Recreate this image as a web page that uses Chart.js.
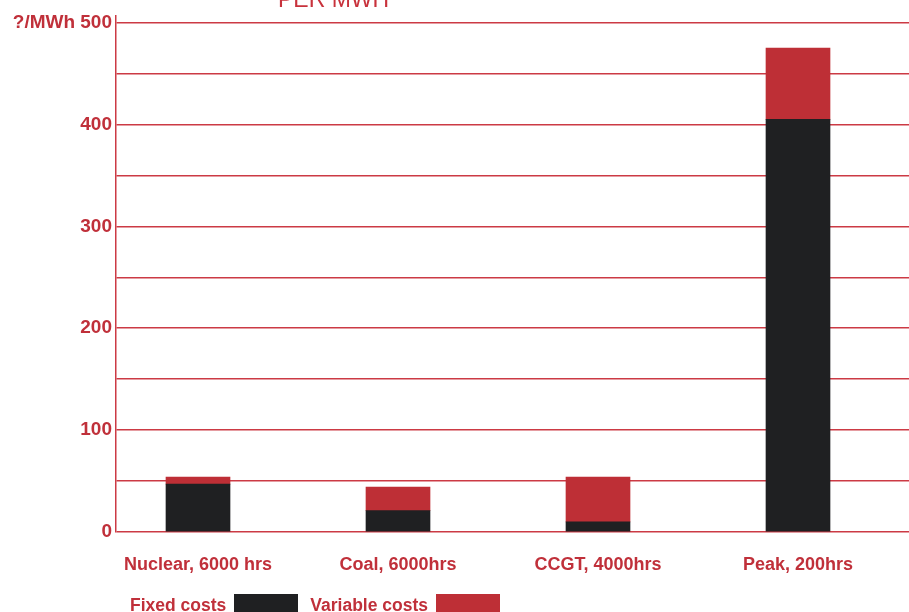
<!DOCTYPE html>
<html>
<head>
<meta charset="utf-8">
<script src="https://cdn.jsdelivr.net/npm/chart.js@4.4.1/dist/chart.umd.min.js"></script>
<style>
  html, body { margin: 0; padding: 0; background: #fff; }
  #wrap { position: relative; width: 909px; height: 612px; overflow: hidden; font-family: "Liberation Sans", Arial, sans-serif; }
  #title { position: absolute; left: 278px; top: -12px; font-size: 23px; line-height: 23px; color: #c8323c; white-space: nowrap; }
  #legend { position: absolute; left: 130px; top: 594px; display: flex; align-items: flex-start; }
  .lg-item { display: flex; align-items: flex-start; margin-right: 12px; }
  .lg-text { font-weight: bold; font-size: 17.5px; color: #c0303a; line-height: 20px; margin-top: 1px; margin-right: 8px; }
  .lg-box { width: 64px; height: 24px; }
</style>
</head>
<body>
<div id="wrap">
  <canvas id="chart" width="909" height="612"></canvas>
  <div id="title">PER MWH</div>
  <div id="legend"></div>
</div>
<script>
// ── data ────────────────────────────────────────────────────────────────
const categories = ["Nuclear, 6000 hrs", "Coal, 6000hrs", "CCGT, 4000hrs", "Peak, 200hrs"];
const fixedCosts = [47, 21, 10, 405];
const variableCosts = [7, 23, 44, 70];
const seriesNames = ["Fixed costs", "Variable costs"];
const seriesColors = ["#1f2022", "#be2f36"];
const yTicks = [0, 50, 100, 150, 200, 250, 300, 350, 400, 450, 500];
const yUnitLabel = "?/MWh";

const RED = "#c0303a";
const GRID = "#cc3a44";

const toPoints = (arr) => arr.map((v, i) => ({ x: i, y: v }));

const ctx = document.getElementById("chart").getContext("2d");
new Chart(ctx, {
  type: "bar",
  data: {
    datasets: [
      { label: seriesNames[0], data: toPoints(fixedCosts), backgroundColor: seriesColors[0], barThickness: 64 },
      { label: seriesNames[1], data: toPoints(variableCosts), backgroundColor: seriesColors[1], barThickness: 64 },
    ],
  },
  options: {
    responsive: false, animation: false,
    layout: { padding: { top: 15, right: 0, left: 0, bottom: 0 } },
    scales: {
      x: {
        type: "linear", stacked: true, offset: false, min: -0.41, max: 3.555,
        afterBuildTicks: (s) => { s.ticks = categories.map((c, i) => ({ value: i })); },
        afterFit: (s) => { s.height = 80; },
        ticks: { callback: (v) => categories[v] ?? "", color: RED, padding: 14, maxRotation: 0, autoSkip: false,
          font: { family: "'Liberation Sans', Arial", size: 18, weight: "bold" } },
        grid: { display: false }, border: { display: false },
      },
      y: {
        stacked: true, min: 0, max: 507,
        // gridlines every 50, labels every 100
        afterBuildTicks: (s) => { s.ticks = yTicks.map((v) => ({ value: v })); },
        afterFit: (s) => { s.width = 116; },
        ticks: { padding: 4, color: RED,
          callback: (v) => (v % 100 ? "" : v === yTicks[yTicks.length - 1] ? yUnitLabel + " " + v : String(v)),
          font: { family: "'Liberation Sans', Arial", size: 19, weight: "bold" } },
        grid: { color: GRID, lineWidth: 1.5, drawTicks: false },
        border: { color: GRID, width: 1.5 },
      },
    },
    plugins: { legend: { display: false }, tooltip: { enabled: false } },
  },
});

// legend: label first, swatch after
const legend = document.getElementById("legend");
seriesNames.forEach((name, i) => {
  const item = document.createElement("div");
  item.className = "lg-item";
  item.innerHTML = `<span class="lg-text">${name}</span><span class="lg-box" style="background:${seriesColors[i]}"></span>`;
  legend.appendChild(item);
});
</script>
</body>
</html>
